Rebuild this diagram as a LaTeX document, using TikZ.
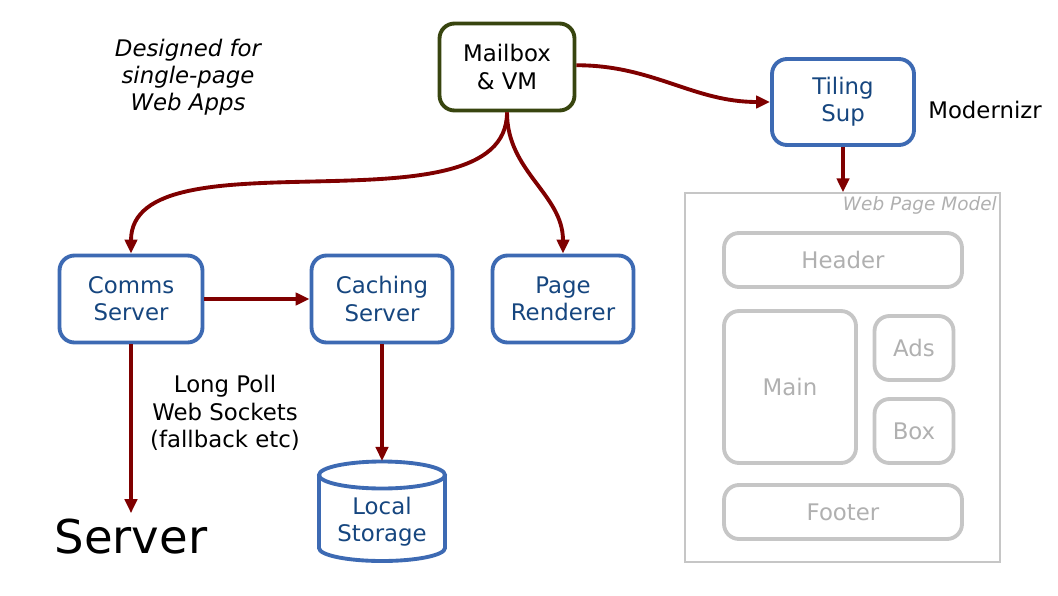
\documentclass[tikz,border=0pt]{standalone}
\usepackage{fontspec}
\setmainfont{DejaVu Sans}
\usetikzlibrary{arrows.meta}
\definecolor{arrowred}{HTML}{7F0000}
\definecolor{boxblue}{HTML}{3D6AB3}
\definecolor{textblue}{HTML}{16467F}
\definecolor{olive}{HTML}{38450F}
\definecolor{lightgrey}{HTML}{C6C6C6}
\definecolor{greytext}{HTML}{B0B0B0}

\begin{document}
\begin{tikzpicture}[x=0.02cm,y=-0.02cm,
    box/.style={draw=boxblue,line width=2.2pt,rounded corners=0.3cm,fill=white,
      text=textblue,align=center,font=\fontsize{13}{15.5}\selectfont,
      minimum width=2.86cm,minimum height=1.74cm},
    pagebox/.style={draw=lightgrey,line width=2.2pt,rounded corners=0.3cm,
      text=greytext,font=\fontsize{13}{15.5}\selectfont},
    flow/.style={-{Triangle[length=8pt,width=7pt]},line width=2.2pt,draw=arrowred}]
  \useasboundingbox (0,0) rectangle (1058,595);

  % top row
  \node[box,draw=olive,text=black,minimum width=2.7cm] (mailbox) at (507,67) {Mailbox\\\& VM};
  \node[box,minimum width=2.84cm,minimum height=1.72cm] (tiling) at (843,102) {Tiling\\Sup};
  \node[font=\fontsize{13}{15.5}\selectfont] (modernizr) at (985,110) {Modernizr};
  \node[align=center,font=\fontsize{13}{15.5}\itshape] (designed) at (188,77) {Designed for\\single-page\\Web Apps};

  % servers
  \node[box] (comms) at (131,299) {Comms\\Server};
  \node[box,minimum width=2.82cm] (caching) at (382,299) {Caching\\Server};
  \node[box,minimum width=2.82cm] (renderer) at (563,299) {Page\\Renderer};
  \draw[boxblue,line width=2.2pt] (319,475) -- (319,548)
    arc[start angle=180,end angle=360,x radius=1.26cm,y radius=0.26cm] -- (445,475);
  \draw[boxblue,line width=2.2pt] (382,475) ellipse[x radius=1.26cm,y radius=0.27cm];
  \coordinate (storagetop) at (382,461);
  \node[text=textblue,align=center,font=\fontsize{13}{15.5}\selectfont] (storage) at (382,522) {Local\\Storage};
  \node[font=\fontsize{26.5}{30}\selectfont] (server) at (131,537) {Server};
  \node[align=center,font=\fontsize{13}{15.5}\selectfont] (poll) at (225,413) {Long Poll\\Web Sockets\\(fallback etc)};

  % web page model
  \node[draw=lightgrey,line width=0.8pt,minimum width=6.3cm,minimum height=7.38cm] (model) at (842.5,377.5) {};
  \node[anchor=north east,inner sep=2pt,text=greytext,font=\fontsize{10.5}{12}\itshape] (modellabel) at (model.north east) {Web Page Model};
  \node[pagebox,minimum width=4.76cm,minimum height=1.08cm] (header) at (843,260) {Header};
  \node[pagebox,minimum width=2.64cm,minimum height=3.04cm] (main) at (790,387) {Main};
  \node[pagebox,minimum width=1.58cm,minimum height=1.28cm] (ads) at (914,348) {Ads};
  \node[pagebox,minimum width=1.58cm,minimum height=1.28cm] (boxx) at (914,431) {Box};
  \node[pagebox,minimum width=4.76cm,minimum height=1.08cm] (footer) at (843,512) {Footer};

  % connectors
  \draw[flow] ([yshift=1pt]mailbox.east) to[out=0,in=180] (tiling.west);
  \draw[flow] (mailbox.south) to[out=-90,in=90,looseness=0.8] (comms.north);
  \draw[flow] (mailbox.south) to[out=-90,in=90] (renderer.north);
  \draw[flow] (tiling.south) -- (model.north -| tiling.south);
  \draw[flow] (comms.east) -- (caching.west);
  \draw[flow] (comms.south) -- (server.north);
  \draw[flow] (caching.south) -- (storagetop);
\end{tikzpicture}
\end{document}
